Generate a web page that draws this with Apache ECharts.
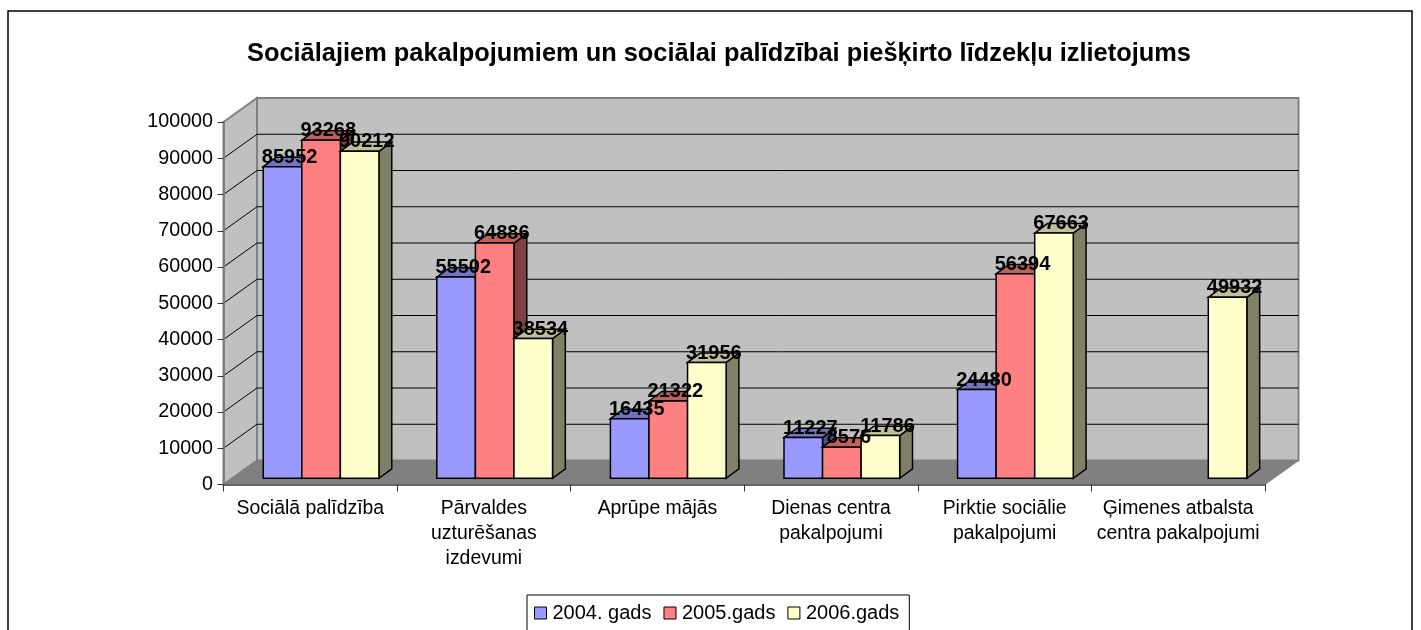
<!DOCTYPE html>
<html>
<head>
<meta charset="utf-8">
<style>
html, body { margin: 0; padding: 0; background: #fff; }
#chart { width: 1421px; height: 630px; }
</style>
<script src="https://cdn.jsdelivr.net/npm/echarts@6/dist/echarts.min.js"></script>
</head>
<body>
<div id="chart"></div>
<script>
var chartTitle = 'Sociālajiem pakalpojumiem un sociālai palīdzībai piešķirto līdzekļu izlietojums';
var categories = ['Sociālā palīdzība', 'Pārvaldes\nuzturēšanas\nizdevumi', 'Aprūpe mājās',
	'Dienas centra\npakalpojumi', 'Pirktie sociālie\npakalpojumi', 'Ģimenes atbalsta\ncentra pakalpojumi'];
var yTicks = [0, 10000, 20000, 30000, 40000, 50000, 60000, 70000, 80000, 90000, 100000];
var seriesNames = ['2004. gads', '2005.gads', '2006.gads'];
var values2004 = [85952, 55502, 16435, 11227, 24480, null];
var values2005 = [93268, 64886, 21322, 8576, 56394, null];
var values2006 = [90212, 38534, 31956, 11786, 67663, 49932];

// front, top and side colours of the bars
var barColors = [
	{ front: '#9999ff', top: '#7373bf', side: '#4d4d80' },
	{ front: '#ff8080', top: '#bf6060', side: '#804040' },
	{ front: '#ffffcc', top: '#bfbf99', side: '#808066' }
];

// pseudo 3d offsets, pixels
var WALL_DX = 33.5, WALL_DY = 24;
var BAR_SHIFT_X = 10.8, BAR_SHIFT_Y = 6.2;
var BAR_DX = 12.8, BAR_DY = 9.4;
var BAR_RATIO = 0.2222;

var FONT = '"Liberation Sans", Arial, sans-serif';

function poly(points, fill, stroke, width) {
	return {
		type: 'polygon',
		shape: { points: points },
		style: { fill: fill, stroke: stroke || null, lineWidth: width || 0, lineJoin: 'miter' }
	};
}

function renderWalls(params, api) {
	var x0 = api.coord([0, 0])[0] - api.size([1, 0])[0] / 2;
	var x1 = x0 + api.size([1, 0])[0] * categories.length;
	var yB = api.coord([0, 0])[1];
	var yT = api.coord([0, yTicks[yTicks.length - 1]])[1];
	var children = [
		// back wall
		poly([[x0 + WALL_DX, yT - WALL_DY], [x1 + WALL_DX, yT - WALL_DY], [x1 + WALL_DX, yB - WALL_DY], [x0 + WALL_DX, yB - WALL_DY]], '#c0c0c0', '#808080', 2),
		// side wall
		poly([[x0, yT], [x0 + WALL_DX, yT - WALL_DY], [x0 + WALL_DX, yB - WALL_DY], [x0, yB]], '#c0c0c0', '#808080', 2)
	];
	yTicks.slice(1, -1).forEach(function (t) {
		var y = api.coord([0, t])[1];
		children.push({
			type: 'polyline',
			shape: { points: [[x0, y], [x0 + WALL_DX, y - WALL_DY], [x1 + WALL_DX, y - WALL_DY]] },
			style: { fill: null, stroke: '#000', lineWidth: 1 }
		});
	});
	// floor
	children.push(poly([[x0, yB], [x0 + WALL_DX, yB - WALL_DY], [x1 + WALL_DX, yB - WALL_DY], [x1, yB]], '#808080', '#808080', 1));
	return { type: 'group', children: children };
}

function makeBarRenderer(idx) {
	return function (params, api) {
		var v = api.value(1);
		if (isNaN(v)) {
			return null;
		}
		var c = barColors[idx];
		var p = api.coord([api.value(0), v]);
		var w = api.size([1, 0])[0] * BAR_RATIO;
		var x = p[0] + BAR_SHIFT_X + (idx - 1.5) * w;
		var yTop = p[1] - BAR_SHIFT_Y;
		var yBot = api.coord([api.value(0), 0])[1] - BAR_SHIFT_Y;
		return {
			type: 'group',
			children: [
				poly([[x + w, yTop], [x + w + BAR_DX, yTop - BAR_DY], [x + w + BAR_DX, yBot - BAR_DY], [x + w, yBot]], c.side, '#000', 1.5),
				poly([[x, yTop], [x + BAR_DX, yTop - BAR_DY], [x + w + BAR_DX, yTop - BAR_DY], [x + w, yTop]], c.top, '#000', 1.5),
				poly([[x, yTop], [x + w, yTop], [x + w, yBot], [x, yBot]], c.front, '#000', 1.5),
				{
					type: 'text',
					z2: 100,
					style: {
						x: x + w / 2 + BAR_DX / 2 + 0.7,
						y: yTop - BAR_DY,
						text: String(v),
						fill: '#000',
						font: 'bold 20px ' + FONT,
						align: 'center',
						verticalAlign: 'middle'
					}
				}
			]
		};
	};
}

function toData(values) {
	return values.map(function (v, i) {
		return [i, v === null ? '-' : v];
	});
}

var series = [{
	type: 'custom',
	name: 'walls',
	z: 1,
	silent: true,
	clip: false,
	renderItem: renderWalls,
	data: [[0, 0]]
}];
[values2004, values2005, values2006].forEach(function (vals, i) {
	series.push({
		type: 'custom',
		name: seriesNames[i],
		z: 3,
		clip: false,
		renderItem: makeBarRenderer(i),
		itemStyle: { color: barColors[i].front },
		encode: { x: 0, y: 1 },
		data: toData(vals)
	});
});

var myChart = echarts.init(document.getElementById('chart'), null, { renderer: 'canvas' });
myChart.setOption({
	animation: false,
	backgroundColor: '#fff',
	title: {
		text: chartTitle,
		left: 242,
		top: 36,
		textStyle: { fontFamily: FONT, fontWeight: 'bold', fontSize: 25.4, color: '#000' }
	},
	graphic: [{
		type: 'rect',
		z: 0,
		shape: { x: 8, y: 11, width: 1404, height: 700 },
		style: { fill: null, stroke: '#000', lineWidth: 1.5 }
	}],
	legend: {
		left: 527,
		top: 595,
		orient: 'horizontal',
		data: seriesNames,
		icon: 'rect',
		itemWidth: 12,
		itemHeight: 12,
		itemGap: 12,
		padding: [8, 10, 60, 7],
		borderColor: '#000',
		borderWidth: 1,
		itemStyle: { borderColor: '#000', borderWidth: 1 },
		textStyle: { fontFamily: FONT, fontSize: 20, color: '#000', padding: [0, 0, 0, 1] }
	},
	grid: { left: 223.5, right: 156, top: 122, bottom: 145.5, containLabel: false },
	xAxis: {
		type: 'category',
		data: categories,
		z: 5,
		axisLine: { lineStyle: { color: '#666', width: 2 } },
		axisTick: { show: true, length: 7, alignWithLabel: false, lineStyle: { color: '#333', width: 1 } },
		axisLabel: {
			interval: 0,
			margin: 11.5,
			fontFamily: FONT,
			fontSize: 19.4,
			lineHeight: 25,
			color: '#000'
		}
	},
	yAxis: {
		type: 'value',
		min: 0,
		max: yTicks[yTicks.length - 1],
		interval: yTicks[1],
		z: 5,
		splitLine: { show: false },
		axisLine: { show: true, lineStyle: { color: '#808080', width: 2 } },
		axisTick: { show: true, length: 6, lineStyle: { color: '#333', width: 1 } },
		axisLabel: {
			margin: 10.5,
			fontFamily: FONT,
			fontSize: 19.7,
			color: '#000',
			formatter: function (v) { return String(v); }
		}
	},
	series: series
});
</script>
</body>
</html>
